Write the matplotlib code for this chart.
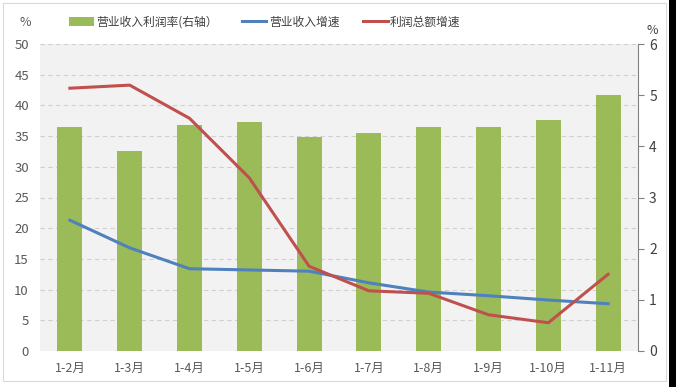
import matplotlib
matplotlib.use("Agg")
import matplotlib.pyplot as plt
from matplotlib.patches import Rectangle, Patch
from matplotlib.lines import Line2D

plt.rcParams['font.family'] = ['Noto Sans CJK SC', 'DejaVu Sans']

months = ["1-2月", "1-3月", "1-4月", "1-5月", "1-6月", "1-7月", "1-8月", "1-9月", "1-10月", "1-11月"]
profit_margin = [4.38, 3.91, 4.41, 4.47, 4.18, 4.26, 4.38, 4.38, 4.51, 5.0]
revenue_growth = [21.3, 16.8, 13.4, 13.2, 13.0, 11.1, 9.6, 9.0, 8.3, 7.7]
profit_growth = [42.8, 43.3, 37.9, 28.2, 13.8, 9.8, 9.4, 5.9, 4.6, 12.5]

green = "#9BBB59"
blue = "#4F81BD"
red = "#C0504D"
txt = "#595959"

fig = plt.figure(figsize=(6.76, 3.87), dpi=100)
ax = fig.add_axes([40 / 676, 36 / 387, 598 / 676, 307 / 387])
ax2 = ax.twinx()

x = list(range(len(months)))
ax2.bar(x, profit_margin, width=0.42, color=green, zorder=2)
ax2.set_ylim(0, 6)
ax2.set_yticks(range(0, 7))

ax.set_zorder(ax2.get_zorder() + 1)
ax.patch.set_visible(False)
ax2.patch.set_visible(True)
ax2.patch.set_facecolor("#F2F2F2")

ax.plot(x, revenue_growth, color=blue, lw=2.2, zorder=3)
ax.plot(x, profit_growth, color=red, lw=2.2, zorder=3)
ax.set_ylim(0, 50)
ax.set_xlim(-0.5, len(months) - 0.5)
ax.set_yticks(range(0, 51, 5))
ax.set_xticks(x)
ax.set_xticklabels(months)

# dashed grid drawn on the bar axes so it stays behind bars
for v in range(5, 51, 5):
    ax2.axhline(v * 6 / 50, color="#D0D0D0", lw=0.8, ls=(0, (4, 3)), zorder=1)
ax2.axhline(0, color="#D9D9D9", lw=0.8, zorder=1)

for a in (ax, ax2):
    for s in ("top", "left", "bottom"):
        a.spines[s].set_visible(False)
ax.spines["right"].set_visible(False)
ax2.spines["right"].set_color("#808080")
ax2.spines["right"].set_linewidth(0.8)

ax.tick_params(axis="y", length=0, labelsize=9.5, labelcolor=txt, pad=8)
ax.tick_params(axis="x", length=0, labelsize=9, labelcolor=txt, pad=8)
ax2.tick_params(axis="y", length=4, color="#808080", labelsize=10, labelcolor="#404040", pad=4)

fig.text(25 / 676, 1 - 22 / 387, "%", fontsize=9, color=txt, ha="center", va="center")
fig.text(652 / 676, 1 - 30 / 387, "%", fontsize=9, color="#404040", ha="center", va="center")

handles = [
    Patch(facecolor=green, edgecolor="none"),
    Line2D([0], [0], color=blue, lw=2.2),
    Line2D([0], [0], color=red, lw=2.2),
]
labels = ["营业收入利润率(右轴）", "营业收入增速", "利润总额增速"]
fig.legend(handles, labels, loc="center", bbox_to_anchor=(265 / 676, 1 - 22 / 387), ncol=3,
           frameon=False, fontsize=8.5, labelcolor="#404040", handlelength=2.1, handleheight=0.8,
           handletextpad=0.2, columnspacing=2.0)

# outer frame and dark strip on the right edge
fig.patches.append(Rectangle((3 / 676, 6 / 387), 663 / 676, 378 / 387, transform=fig.transFigure,
                             fill=False, edgecolor="#D9D9D9", lw=0.8))
fig.patches.append(Rectangle((669 / 676, 0), 7 / 676, 1, transform=fig.transFigure,
                             facecolor="black", edgecolor="none"))

fig.savefig("out.png", dpi=100)
